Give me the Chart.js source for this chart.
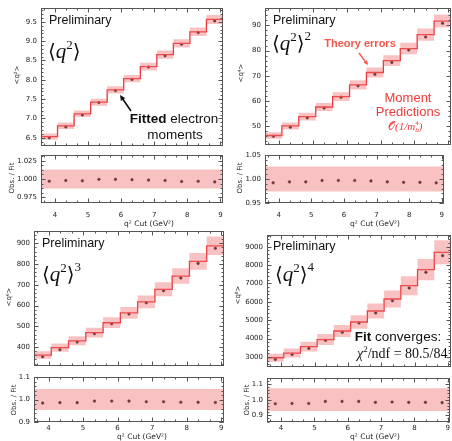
<!DOCTYPE html>
<html>
<head>
<meta charset="utf-8">
<script src="https://cdn.jsdelivr.net/npm/chart.js@4.4.1/dist/chart.umd.min.js"></script>
<style>
  html, body { margin: 0; padding: 0; background: #fff; }
  #wrap { position: relative; width: 452px; height: 441px; overflow: hidden; }
  #wrap canvas { position: absolute; left: 0; top: 0; }
</style>
</head>
<body>
<div id="wrap"></div>
<script>
// q2 cut (centre of each step) and half width of a step
const q2Cut = [3.83, 4.33, 4.83, 5.33, 5.83, 6.33, 6.83, 7.33, 7.83, 8.33, 8.83];
const halfBin = 0.25;
const xMin = 3.58, xMax = 9.08;
const xTicks = [4, 5, 6, 7, 8, 9];
const xMinorStep = 1 / 3;

// <q2>
const fitQ2 = [6.53, 6.81, 7.12, 7.42, 7.74, 8.03, 8.34, 8.65, 8.94, 9.24, 9.56];
const obsQ2 = [6.50, 6.78, 7.09, 7.41, 7.72, 8.01, 8.33, 8.62, 8.92, 9.22, 9.52];
const ratioQ2 = [0.997, 0.998, 0.9975, 0.9995, 0.9995, 0.999, 0.9985, 0.998, 0.9965, 0.997, 0.996];
const errQ2 = 0.012, ratioErrQ2 = 0.013;

// <q2>^2
const fitQ4 = [46.3, 50.1, 53.8, 57.6, 61.7, 66.4, 71.3, 76.0, 80.8, 86.3, 91.7];
const obsQ4 = [46.0, 49.6, 53.3, 57.2, 61.5, 66.0, 70.6, 75.3, 80.2, 85.4, 90.8];
const ratioQ4 = [0.992, 0.994, 0.994, 0.997, 0.997, 0.997, 0.996, 0.994, 0.993, 0.993, 0.992];
const errQ4 = 0.028, ratioErrQ4 = 0.026;

// <q2>^3
const fitQ6 = [361, 397, 430, 469, 517, 565, 618, 678, 742, 813, 888];
const obsQ6 = [353, 387, 424, 464, 512, 559, 613, 671, 733, 803, 876];
const ratioQ6 = [0.984, 0.986, 0.986, 0.993, 0.993, 0.993, 0.99, 0.99, 0.988, 0.988, 0.987];
const errQ6 = 0.05, ratioErrQ6 = 0.047;

// <q2>^4
const fitQ8 = [2960, 3215, 3562, 3950, 4414, 4904, 5502, 6155, 6880, 7750, 8695];
const obsQ8 = [2870, 3140, 3471, 3905, 4342, 4850, 5393, 6063, 6754, 7606, 8513];
const ratioQ8 = [0.974, 0.976, 0.976, 0.989, 0.989, 0.989, 0.983, 0.985, 0.983, 0.983, 0.981];
const errQ8 = 0.075, ratioErrQ8 = 0.073;

// tick labels
const yTicksQ2 = [6.5, 7.0, 7.5, 8.0, 8.5, 9.0, 9.5];
const yTicksQ4 = [50, 60, 70, 80, 90];
const yTicksQ6 = [400, 500, 600, 700, 800, 900];
const yTicksQ8 = [3000, 4000, 5000, 6000, 7000, 8000, 9000];
const rTicksQ2 = [0.975, 1.000, 1.025];
const rTicksQ4 = [0.95, 1.00, 1.05];
const rTicksQ6 = [0.9, 1.0, 1.1];
const rTicksQ8 = [0.9, 1.0, 1.1];

const W = 452, H = 441;
const red = '#e8323a';
const band = 'rgba(240,110,110,0.42)';
const tickFont = { family: 'DejaVu Sans', size: 7 };
const wrap = document.getElementById('wrap');

function makeCanvas() {
  const c = document.createElement('canvas');
  c.width = W; c.height = H;
  c.style.width = W + 'px'; c.style.height = H + 'px';
  wrap.appendChild(c);
  return c;
}

// each step is held from its left edge to the next point (stepped: 'before')
function stepData(vals, f) {
  const pts = q2Cut.map((c, i) => ({ x: c - halfBin, y: vals[i] * f }));
  pts.push({ x: q2Cut[q2Cut.length - 1] + halfBin, y: vals[vals.length - 1] * f });
  return pts;
}

// box frame with inward ticks on all four sides
function frame(ticks, minor) {
  return {
    id: 'frame',
    afterDatasetsDraw(chart) {
      const { ctx, chartArea: a } = chart;
      const xs = chart.scales.x, ys = chart.scales.y;
      const L = Math.round(a.left) + 0.5, R = Math.round(a.right) - 0.5;
      const T = Math.round(a.top) + 0.5, B = Math.round(a.bottom) - 0.5;
      ctx.save();
      ctx.strokeStyle = '#555';
      ctx.lineWidth = 1;
      ctx.strokeRect(L, T, R - L, B - T);
      ctx.beginPath();
      const tx = (v, n) => {
        const p = Math.round(xs.getPixelForValue(v)) + 0.5;
        ctx.moveTo(p, B); ctx.lineTo(p, B - n);
        ctx.moveTo(p, T); ctx.lineTo(p, T + n);
      };
      const ty = (v, n) => {
        const p = Math.round(ys.getPixelForValue(v)) + 0.5;
        ctx.moveTo(L, p); ctx.lineTo(L + n, p);
        ctx.moveTo(R, p); ctx.lineTo(R - n, p);
      };
      xTicks.forEach(v => tx(v, 4));
      for (let k = Math.ceil(xs.min / xMinorStep); k * xMinorStep <= xs.max; k++) tx(k * xMinorStep, 2);
      ticks.forEach(v => ty(v, 4));
      for (let k = Math.ceil(ys.min / minor); k * minor <= ys.max; k++) ty(k * minor, 2);
      ctx.stroke();
      ctx.restore();
    }
  };
}

function txt(ctx, s, x, y, font, color, align) {
  ctx.font = font;
  ctx.fillStyle = color || '#111';
  ctx.textAlign = align || 'left';
  ctx.textBaseline = 'middle';
  ctx.fillText(s, x, y);
}

function runs(ctx, x, y, parts, color) {
  ctx.textAlign = 'left';
  ctx.textBaseline = 'alphabetic';
  ctx.fillStyle = color || '#111';
  let cx = x;
  for (const [s, f, up, noAdvance] of parts) {
    ctx.font = f;
    ctx.fillText(s, cx, y - (up || 0));
    if (!noAdvance) cx += ctx.measureText(s).width;
  }
  return cx - x;
}

function moment(ctx, x, y, pow) {
  const parts = [
    ['\u27E8', '20px "DejaVu Serif"'],
    ['q', 'italic 21px "Liberation Serif"'],
    ['2', '13px "Liberation Serif"', 9],
    ['\u27E9', '20px "DejaVu Serif"']
  ];
  if (pow) parts.push([pow, '13px "Liberation Serif"', 10]);
  runs(ctx, x, y, parts);
}

function arrow(ctx, x0, y0, x1, y1, color, lw, head) {
  const a = Math.atan2(y1 - y0, x1 - x0);
  ctx.save();
  ctx.strokeStyle = color; ctx.fillStyle = color; ctx.lineWidth = lw;
  ctx.beginPath();
  ctx.moveTo(x0, y0);
  ctx.lineTo(x1 - Math.cos(a) * head * 0.8, y1 - Math.sin(a) * head * 0.8);
  ctx.stroke();
  ctx.beginPath();
  ctx.moveTo(x1, y1);
  ctx.lineTo(x1 - head * Math.cos(a - 0.45), y1 - head * Math.sin(a - 0.45));
  ctx.lineTo(x1 - head * Math.cos(a + 0.45), y1 - head * Math.sin(a + 0.45));
  ctx.closePath();
  ctx.fill();
  ctx.restore();
}

function vtxt(ctx, s, x, y, size) {
  ctx.save();
  ctx.translate(x, y);
  ctx.rotate(-Math.PI / 2);
  txt(ctx, s, 0, 0, size + 'px "DejaVu Sans"', '#222', 'center');
  ctx.restore();
}

const PRELIM = '12.5px "Liberation Sans"';
const PRED = '#f03a3a';

const notes = {
  q2(ctx) {
    txt(ctx, 'Preliminary', 49, 21, PRELIM);
    moment(ctx, 48, 58, '');
    ctx.font = 'bold 13.5px "Liberation Sans"';
    const w1 = ctx.measureText('Fitted').width;
    ctx.font = '13.5px "Liberation Sans"';
    const w2 = ctx.measureText(' electron').width;
    const x0 = 174 - (w1 + w2) / 2;
    txt(ctx, 'Fitted', x0, 119, 'bold 13.5px "Liberation Sans"');
    txt(ctx, ' electron', x0 + w1, 119, '13.5px "Liberation Sans"');
    txt(ctx, 'moments', 175, 135, '13.5px "Liberation Sans"', '#111', 'center');
    arrow(ctx, 131, 111, 120, 95, '#111', 1.6, 6);
    vtxt(ctx, '<q\u00B2>', 17, 75, 7);
  },
  q4(ctx) {
    txt(ctx, 'Preliminary', 273, 21, PRELIM);
    moment(ctx, 272, 50, '2');
    txt(ctx, 'Theory errors', 360, 44, 'bold 11px "Liberation Sans"', '#f4584c', 'center');
    arrow(ctx, 359, 53, 368, 65, '#f4584c', 1.4, 5);
    txt(ctx, 'Moment', 408, 98, '13px "Liberation Sans"', PRED, 'center');
    txt(ctx, 'Predictions', 408, 112, '13px "Liberation Sans"', PRED, 'center');
    runs(ctx, 388, 130, [
      ['\uD835\uDCAA', '11px "DejaVu Serif"'],
      ['(1/', 'italic 11px "Liberation Serif"'],
      ['m', 'italic 11px "Liberation Serif"'],
      ['4', '7px "Liberation Serif"', 5, true],
      ['b', 'italic 7px "Liberation Serif"', -2],
      [')', 'italic 11px "Liberation Serif"']
    ], PRED);
    vtxt(ctx, '<q\u2074>', 241, 73, 7);
  },
  q6(ctx) {
    txt(ctx, 'Preliminary', 42, 244, PRELIM);
    moment(ctx, 42, 281, '3');
    vtxt(ctx, '<q\u2076>', 9, 297, 7);
  },
  q8(ctx) {
    txt(ctx, 'Preliminary', 273, 247, PRELIM);
    moment(ctx, 275, 281, '4');
    ctx.font = 'bold 13.5px "Liberation Sans"';
    const w1 = ctx.measureText('Fit').width;
    ctx.font = '13.5px "Liberation Sans"';
    const w2 = ctx.measureText(' converges:').width;
    const x0 = 398 - (w1 + w2) / 2;
    txt(ctx, 'Fit', x0, 337, 'bold 13.5px "Liberation Sans"');
    txt(ctx, ' converges:', x0 + w1, 337, '13.5px "Liberation Sans"');
    runs(ctx, 357, 358, [
      ['\u03C7', 'italic 14px "Liberation Serif"'],
      ['2', '9px "Liberation Serif"', 6],
      ['/ndf = 80.5/84', '14px "Liberation Serif"']
    ]);
    vtxt(ctx, '<q\u2078>', 238, 295, 7);
  }
};

const panels = [
  { key: 'q2', fit: fitQ2, obs: obsQ2, ratio: ratioQ2, err: errQ2, rErr: ratioErrQ2,
    main: { l: 41, t: 7, r: 223, b: 146, min: 6.287, max: 9.851, ticks: yTicksQ2, minor: 0.1, dec: 1 },
    sub: { l: 41, t: 155, r: 223, b: 203, min: 0.967, max: 1.033, ticks: rTicksQ2, minor: 0.00625, dec: 3, lab: 215, ytx: 12, yty: 178, xtx: 149, xty: 224 } },
  { key: 'q4', fit: fitQ4, obs: obsQ4, ratio: ratioQ4, err: errQ4, rErr: ratioErrQ4,
    main: { l: 265, t: 7, r: 451, b: 145, min: 42.53, max: 96.8, ticks: yTicksQ4, minor: 2, dec: 0 },
    sub: { l: 265, t: 155, r: 451, b: 203, min: 0.95, max: 1.05, ticks: rTicksQ4, minor: 0.01, dec: 2, lab: 215, ytx: 240, yty: 178, xtx: 375, xty: 224 } },
  { key: 'q6', fit: fitQ6, obs: obsQ6, ratio: ratioQ6, err: errQ6, rErr: ratioErrQ6,
    main: { l: 34, t: 231, r: 224, b: 366, min: 308.4, max: 959.3, ticks: yTicksQ6, minor: 20, dec: 0 },
    sub: { l: 34, t: 377, r: 224, b: 422, min: 0.9, max: 1.1, ticks: rTicksQ6, minor: 0.02, dec: 1, lab: 428, ytx: 14, yty: 400, xtx: 142, xty: 437 } },
  { key: 'q8', fit: fitQ8, obs: obsQ8, ratio: ratioQ8, err: errQ8, rErr: ratioErrQ8,
    main: { l: 267, t: 235, r: 451, b: 367, min: 2456, max: 9636, ticks: yTicksQ8, minor: 200, dec: 0 },
    sub: { l: 267, t: 378, r: 451, b: 422, min: 0.857, max: 1.139, ticks: rTicksQ8, minor: 0.02, dec: 1, lab: 428, ytx: 247, yty: 400, xtx: 375, xty: 437 } }
];

function yScale(box) {
  return {
    type: 'linear', min: box.min, max: box.max,
    afterFit: s => { s.width = box.l; },
    afterBuildTicks: s => { s.ticks = box.ticks.map(v => ({ value: v })); },
    grid: { display: false, drawTicks: false },
    border: { display: false },
    ticks: { font: tickFont, color: '#222', padding: 4, autoSkip: false,
      callback: v => Number(v).toFixed(box.dec) }
  };
}

const common = {
  responsive: false,
  animation: false,
  events: [],
  plugins: { legend: { display: false }, tooltip: { enabled: false } }
};

panels.forEach(p => {
  const m = p.main, s = p.sub;

  // main panel: step prediction with theory band and observed points
  new Chart(makeCanvas(), {
    type: 'line',
    data: {
      datasets: [
        { data: stepData(p.fit, 1 - p.err), stepped: 'before', borderColor: 'transparent', borderWidth: 0, pointRadius: 0, fill: false },
        { data: stepData(p.fit, 1 + p.err), stepped: 'before', borderColor: 'transparent', borderWidth: 0, pointRadius: 0, fill: '-1', backgroundColor: band },
        { data: stepData(p.fit, 1), stepped: 'before', borderColor: red, borderWidth: 1.3, pointRadius: 0, fill: false },
        { data: q2Cut.map((c, i) => ({ x: c, y: p.obs[i] })), showLine: false, pointRadius: 1.3,
          pointBackgroundColor: '#111', pointBorderColor: '#111', pointBorderWidth: 0.5 }
      ]
    },
    options: Object.assign({}, common, {
      layout: { autoPadding: false, padding: { left: 0, top: m.t, right: W - m.r, bottom: H - m.b } },
      scales: {
        x: { type: 'linear', min: xMin, max: xMax, display: false },
        y: yScale(m)
      }
    }),
    plugins: [frame(m.ticks, m.minor), { id: 'notes', afterDraw: c => notes[p.key](c.ctx) }]
  });

  // ratio panel: observed / fit with band
  new Chart(makeCanvas(), {
    type: 'line',
    data: {
      datasets: [
        { data: [{ x: xMin, y: 1 - p.rErr }, { x: xMax, y: 1 - p.rErr }], borderColor: 'transparent', borderWidth: 0, pointRadius: 0, fill: false },
        { data: [{ x: xMin, y: 1 + p.rErr }, { x: xMax, y: 1 + p.rErr }], borderColor: 'transparent', borderWidth: 0, pointRadius: 0, fill: '-1', backgroundColor: band },
        { data: q2Cut.map((c, i) => ({ x: c, y: p.ratio[i] })), showLine: false, pointRadius: 1.3,
          pointBackgroundColor: '#111', pointBorderColor: '#111', pointBorderWidth: 0.5 }
      ]
    },
    options: Object.assign({}, common, {
      layout: { autoPadding: false, padding: { left: 0, top: s.t, right: W - s.r, bottom: 0 } },
      scales: {
        x: {
          type: 'linear', min: xMin, max: xMax,
          afterFit: sc => { sc.height = H - s.b; },
          afterBuildTicks: sc => { sc.ticks = xTicks.map(v => ({ value: v })); },
          grid: { display: false, drawTicks: false },
          border: { display: false },
          ticks: { font: tickFont, color: '#222', padding: s.lab - s.b - 4, maxRotation: 0, autoSkip: false,
            callback: v => String(v) }
        },
        y: yScale(s)
      }
    }),
    plugins: [frame(s.ticks, s.minor), {
      id: 'labels',
      afterDraw: c => {
        vtxt(c.ctx, 'Obs. / Fit', s.ytx, s.yty, 7);
        txt(c.ctx, 'q\u00B2 Cut (GeV\u00B2)', s.xtx, s.xty, '7.5px "DejaVu Sans"', '#222', 'center');
      }
    }]
  });
});
</script>
</body>
</html>
